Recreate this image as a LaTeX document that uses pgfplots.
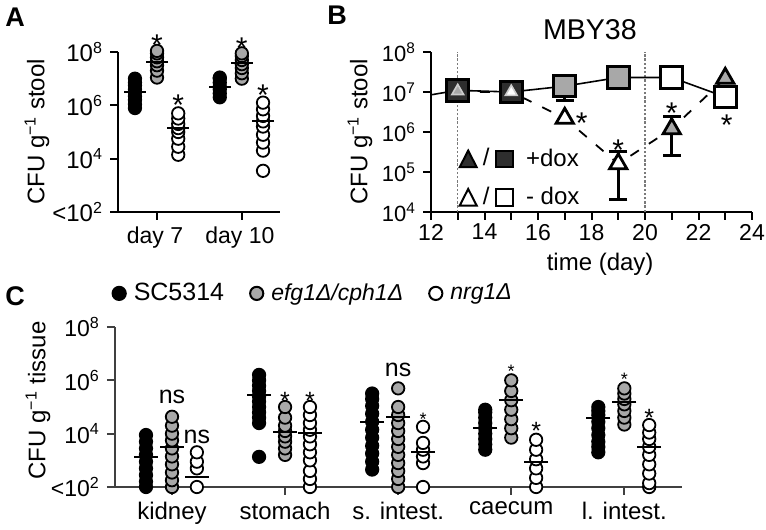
\documentclass[border=0pt]{standalone}
\usepackage{fontspec}
\setmainfont{Liberation Sans}
\usepackage{pgfplots}
\pgfplotsset{compat=1.18}
\definecolor{mgray}{HTML}{A8A8A8}
\definecolor{dgray}{HTML}{2E2E2E}
\definecolor{axgray}{HTML}{404040}
\definecolor{vgray}{HTML}{7A7A7A}
\newcommand{\fs}[1]{\fontsize{#1}{#1}\selectfont}
\pgfplotsset{
  blk/.style={only marks, mark=*, mark size=3.1pt, mark options={line width=0.9pt, draw=black, fill=black}, forget plot},
  gry/.style={only marks, mark=*, mark size=3.1pt, mark options={line width=0.9pt, draw=black, fill=mgray}, forget plot},
  wht/.style={only marks, mark=*, mark size=3.1pt, mark options={line width=0.9pt, draw=black, fill=white}, forget plot},
  avgA/.style={only marks, mark=-, mark size=5.5pt, mark options={line width=1.1pt, draw=black}, forget plot},
  avgC/.style={only marks, mark=-, mark size=6pt, mark options={line width=1pt, draw=black}, forget plot},
}
\tikzset{
  astk/.style={font=\fs{15}, inner sep=0pt, anchor=center, yshift=-3.3pt},
  mstk/.style={font=\fs{12.5}, inner sep=0pt, anchor=center, yshift=-2.7pt},
  sstk/.style={font=\fs{9}, inner sep=0pt, anchor=center, yshift=-2pt},
  nsl/.style={font=\fs{12.5}, inner sep=0pt, anchor=center},
}
\begin{document}
\begin{tikzpicture}
% ---------------- Panel A ----------------
\begin{axis}[scale only axis, clip=false,
  axis lines=left, axis line style={-, line width=1pt},
  tick align=outside, major tick length=4pt,
  every tick/.style={black, line width=1pt},
  xminorticks=false, yminorticks=false, ymode=log,
  label style={font=\fs{12}},
  at={(59pt,159pt)}, anchor=south west, width=81pt, height=80pt,
  xmin=0.54, xmax=2.45, ymin=1e2, ymax=1e8,
  xtick={1,2}, xticklabels={day 7, day 10},
  x tick label style={font=\fs{11.5}, xshift=-1pt},
  ytick={1e2,1e4,1e6,1e8},
  yticklabels={{<10\textsuperscript{2}},10\textsuperscript{4},10\textsuperscript{6},10\textsuperscript{8}},
  y tick label style={font=\fs{12}},
  ylabel={CFU g\textsuperscript{−1} stool},
  ylabel style={at={(axis description cs:-0.5,0.5)}, anchor=center},
]
\addplot[blk] coordinates {(0.74,7.9e5) (0.74,1.1e6) (0.74,1.6e6) (0.74,2.2e6) (0.74,3.2e6) (0.74,4e6) (0.74,5.6e6) (0.74,7.1e6) (0.74,1e7)};
\addplot[gry] coordinates {(1,1.1e7) (1,2e7) (1,3.2e7) (1,4.5e7) (1,6.3e7) (1,8.9e7) (1,1.1e8)};
\addplot[wht] coordinates {(1.25,1.4e4) (1.25,2.8e4) (1.25,5.6e4) (1.25,1e5) (1.25,1.4e5) (1.25,2e5) (1.25,3.2e5) (1.25,5e5)};
\addplot[blk] coordinates {(1.74,2e6) (1.74,2.8e6) (1.74,4e6) (1.74,5e6) (1.74,7.1e6) (1.74,1e7) (1.74,1.1e7)};
\addplot[gry] coordinates {(2,1e7) (2,1.6e7) (2,2.5e7) (2,3.5e7) (2,5e7) (2,7.1e7) (2,8.9e7)};
\addplot[wht] coordinates {(2.25,3.5e3) (2.25,2e4) (2.25,4e4) (2.25,7.9e4) (2.25,1.6e5) (2.25,2.5e5) (2.25,4e5) (2.25,7.1e5) (2.25,1.26e6)};
\addplot[avgA] coordinates {(0.74,3.2e6) (1,4.3e7) (1.25,1.4e5) (1.74,4.9e6) (2,3.9e7) (2.25,2.6e5)};
\node[astk] at (axis cs:1,3.2e8) {*};
\node[astk] at (axis cs:1.25,1.8e6) {*};
\node[astk] at (axis cs:2,2.5e8) {*};
\node[astk] at (axis cs:2.25,4.2e6) {*};
\end{axis}
% ---------------- Panel B ----------------
\begin{axis}[scale only axis, clip=false,
  axis lines=left, axis line style={-, line width=1pt},
  tick align=outside, major tick length=4pt, minor tick length=4pt,
  every tick/.style={black, line width=1pt},
  every minor tick/.style={black, line width=1pt},
  yminorticks=false, ymode=log,
  label style={font=\fs{12}},
  at={(215.5pt,159pt)}, anchor=south west, width=160.5pt, height=80pt,
  xmin=12, xmax=24, ymin=1e4, ymax=1e8,
  xtick={12,14,...,24}, xticklabels={12,14,16,18,20,22,24},
  minor xtick={13,15,...,23},
  x tick label style={font=\fs{11.5}, yshift=1.5pt},
  ytick={1e4,1e5,1e6,1e7,1e8},
  yticklabels={10\textsuperscript{4},10\textsuperscript{5},10\textsuperscript{6},10\textsuperscript{7},10\textsuperscript{8}},
  y tick label style={font=\fs{11}},
  xlabel={time (day)},
  xlabel style={at={(axis description cs:0.527,-0.33)}, anchor=center},
  ylabel={CFU g\textsuperscript{−1} stool},
  ylabel style={at={(axis description cs:-0.221,0.5)}, anchor=center},
  legend style={at={(axis description cs:0.085,0.21)}, anchor=west, draw=none, fill=none,
    font=\fs{12}, row sep=5pt, inner sep=0pt, cells={anchor=west}},
]
\addlegendimage{legend image code/.code={
  \filldraw[fill=dgray, draw=black, line width=1pt] (0pt,-4pt) -- (8.5pt,-4pt) -- (4.25pt,4.3pt) -- cycle;
  \node[inner sep=0pt, anchor=center, font=\fs{12}] at (13.2pt,0.3pt) {/};
  \filldraw[fill=dgray, draw=black, line width=1pt] (18.3pt,-4pt) rectangle (26.8pt,4.3pt);
  \path (31pt,0pt);
}}
\addlegendentry{+dox}
\addlegendimage{legend image code/.code={
  \filldraw[fill=white, draw=black, line width=1pt] (0pt,-4pt) -- (8.5pt,-4pt) -- (4.25pt,4.3pt) -- cycle;
  \node[inner sep=0pt, anchor=center, font=\fs{12}] at (13.2pt,0.3pt) {/};
  \filldraw[fill=white, draw=black, line width=1pt] (18.3pt,-4pt) rectangle (26.8pt,4.3pt);
  \path (31pt,0pt);
}}
\addlegendentry{- dox}
% dotted verticals
\addplot[vgray, line width=0.7pt, dash pattern=on 1.2pt off 0.9pt, forget plot] coordinates {(13,1e4) (13,1e8)};
\addplot[vgray, line width=0.7pt, dash pattern=on 1.2pt off 0.9pt, forget plot] coordinates {(20,1e4) (20,1e8)};
% connecting lines
\addplot[black, line width=0.8pt, forget plot] coordinates {(12,8.5e6) (13,1.1e7) (15,1e7) (17,1.4e7) (19,2.3e7) (21,2.3e7) (23,7.5e6)};
\addplot[black, line width=0.9pt, dash pattern=on 5pt off 6pt, forget plot] coordinates {(13,1e7) (15,1e7) (17,2.2e6) (19,1.6e5) (21,1.2e6) (23,2.2e7)};
% error bars
\addplot[black, line width=1.4pt, mark=-, mark size=4.5pt, forget plot] coordinates {(17,1.4e7) (17,6.2e6)};
\addplot[black, line width=1.4pt, mark=-, mark size=4.5pt, forget plot] coordinates {(23,7.5e6) (23,4.2e6)};
\addplot[black, line width=1.4pt, mark=-, mark size=4.5pt, forget plot] coordinates {(19,3.2e5) (19,2.1e4)};
\addplot[black, line width=1.4pt, mark=-, mark size=4.5pt, forget plot] coordinates {(21,2.4e6) (21,2.6e5)};
% squares
\addplot[only marks, mark=square*, mark size=5.4pt, mark options={line width=1.5pt, draw=black, fill=dgray}, forget plot] coordinates {(13,1.1e7) (15,1e7)};
\addplot[only marks, mark=square*, mark size=5.4pt, mark options={line width=1.5pt, draw=black, fill=mgray}, forget plot] coordinates {(17,1.4e7) (19,2.3e7)};
\addplot[only marks, mark=square*, mark size=5.4pt, mark options={line width=1.5pt, draw=black, fill=white}, forget plot] coordinates {(21,2.3e7) (23,7.5e6)};
% triangles
\addplot[only marks, mark=triangle*, mark size=3.4pt, mark options={line width=0.8pt, draw=gray!40, fill=mgray}, forget plot] coordinates {(13,1.05e7)};
\addplot[only marks, mark=triangle*, mark size=3.4pt, mark options={line width=0.8pt, draw=gray!40, fill=white}, forget plot] coordinates {(15,1e7)};
\addplot[only marks, mark=triangle*, mark size=5pt, mark options={line width=1.4pt, draw=black, fill=white}, forget plot] coordinates {(17,2.2e6) (19,1.6e5)};
\addplot[only marks, mark=triangle*, mark size=5pt, mark options={line width=1.4pt, draw=black, fill=mgray}, forget plot] coordinates {(21,1.2e6) (23,2.2e7)};
\node[astk] at (axis cs:17.63,2.4e6) {*};
\node[astk] at (axis cs:19,5.1e5) {*};
\node[astk] at (axis cs:21,4.2e6) {*};
\node[astk] at (axis cs:23.05,2.2e6) {*};
\node[font=\fs{14.3}] at (axis description cs:0.495,1.14) {MBY38};
\end{axis}
% ---------------- Panel C ----------------
\begin{axis}[scale only axis, clip=false,
  axis lines=left, axis line style={-, line width=0.9pt, draw=axgray},
  tick align=outside, major tick length=4pt,
  every tick/.style={axgray, line width=0.9pt},
  xminorticks=false, yminorticks=false, ymode=log,
  label style={font=\fs{12}},
  at={(57.5pt,21.5pt)}, anchor=south west, width=283.5pt, height=80pt,
  xmin=0.496, xmax=5.51, ymin=1e2, ymax=1e8,
  xtick={1,...,5}, xticklabels={kidney, stomach, s. intest., caecum, l. intest.},
  x tick label style={font=\fs{12}},
  ytick={1e2,1e4,1e6,1e8},
  yticklabels={{<10\textsuperscript{2}},10\textsuperscript{4},10\textsuperscript{6},10\textsuperscript{8}},
  y tick label style={font=\fs{11.5}},
  ylabel={CFU g\textsuperscript{−1} tissue},
  ylabel style={at={(axis description cs:-0.136,0.54)}, anchor=center},
  legend columns=3,
  legend style={at={(axis description cs:-0.005,1.21)}, anchor=west, draw=none, fill=none,
    font=\fs{12.5}, inner sep=0pt, /tikz/every even column/.append style={column sep=11pt},
    /tikz/every odd column/.append style={column sep=2pt}},
]
\addlegendimage{only marks, mark=*, mark size=3.3pt, mark options={line width=1pt, draw=black, fill=black}}
\addlegendentry{SC5314}
\addlegendimage{only marks, mark=*, mark size=3.3pt, mark options={line width=1pt, draw=black, fill=mgray}}
\addlegendentry{\fs{11.5}\textit{efg1Δ/cph1Δ}}
\addlegendimage{only marks, mark=*, mark size=3.3pt, mark options={line width=1pt, draw=black, fill=white}}
\addlegendentry{\fs{11.5}\textit{nrg1Δ}}
% kidney
\addplot[blk] coordinates {(0.77,100) (0.77,160) (0.77,280) (0.77,500) (0.77,890) (0.77,1600) (0.77,2800) (0.77,5000) (0.77,8900)};
\addplot[gry] coordinates {(1,100) (1,180) (1,350) (1,710) (1,1400) (1,2800) (1,5600) (1,1e4) (1,2e4) (1,4.3e4)};
\addplot[wht] coordinates {(1.22,100) (1.22,500) (1.22,890) (1.22,2000)};
% stomach
\addplot[blk] coordinates {(1.77,1350) (1.77,2.5e4) (1.77,4e4) (1.77,6.3e4) (1.77,1e5) (1.77,1.6e5) (1.77,2.5e5) (1.77,4e5) (1.77,6.3e5) (1.77,1e6) (1.77,1.6e6)};
\addplot[gry] coordinates {(2,1600) (2,2800) (2,5000) (2,7900) (2,1.26e4) (2,2e4) (2,4e4) (2,1e5)};
\addplot[wht] coordinates {(2.22,100) (2.22,200) (2.22,400) (2.22,1000) (2.22,2000) (2.22,4000) (2.22,7900) (2.22,1.4e4) (2.22,2.5e4) (2.22,5e4) (2.22,1e5)};
% s. intest.
\addplot[blk] coordinates {(2.77,450) (2.77,890) (2.77,1800) (2.77,3500) (2.77,7100) (2.77,1.4e4) (2.77,2.8e4) (2.77,5.6e4) (2.77,1.1e5) (2.77,2e5) (2.77,3.2e5)};
\addplot[gry] coordinates {(3,100) (3,200) (3,400) (3,790) (3,1600) (3,3200) (3,6300) (3,1.26e4) (3,2.5e4) (3,5e4) (3,1e5) (3,5e5)};
\addplot[wht] coordinates {(3.22,100) (3.22,790) (3.22,1400) (3.22,2500) (3.22,4500) (3.22,1.8e4)};
% caecum
\addplot[blk] coordinates {(3.77,2500) (3.77,4000) (3.77,6300) (3.77,1e4) (3.77,1.6e4) (3.77,2.5e4) (3.77,4e4) (3.77,6.3e4) (3.77,7.9e4)};
\addplot[gry] coordinates {(4,7100) (4,1.6e4) (4,3.5e4) (4,7.9e4) (4,1.8e5) (4,4e5) (4,1e6)};
\addplot[wht] coordinates {(4.22,100) (4.22,220) (4.22,500) (4.22,1100) (4.22,2500) (4.22,5900)};
% l. intest.
\addplot[blk] coordinates {(4.77,2000) (4.77,3200) (4.77,5000) (4.77,8900) (4.77,1.6e4) (4.77,2.8e4) (4.77,5e4) (4.77,7.1e4) (4.77,1e5)};
\addplot[gry] coordinates {(5,2.2e4) (5,4e4) (5,7.1e4) (5,1.26e5) (5,2e5) (5,3.2e5) (5,5e5)};
\addplot[wht] coordinates {(5.22,100) (5.22,140) (5.22,320) (5.22,710) (5.22,1600) (5.22,3200) (5.22,6300) (5.22,1.1e4) (5.22,2.1e4)};
% means
\addplot[avgC] coordinates {(0.77,1350) (1,3200) (1.22,240) (1.77,2.8e5) (2,1.2e4) (2.22,1.07e4) (2.77,2.75e4) (3,4.3e4) (3.22,2000) (3.77,1.6e4) (4,1.9e5) (4.22,870) (4.77,4e4) (5,1.6e5) (5.22,3200)};
% annotations
\node[nsl] at (axis cs:1,2.4e5) {ns};
\node[nsl] at (axis cs:1.22,7.6e3) {ns};
\node[nsl] at (axis cs:3,2.5e6) {ns};
\node[mstk] at (axis cs:2,2.8e5) {*};
\node[mstk] at (axis cs:2.22,2.8e5) {*};
\node[sstk] at (axis cs:3.22,5e4) {*};
\node[sstk] at (axis cs:4,3.2e6) {*};
\node[mstk] at (axis cs:4.22,2.1e4) {*};
\node[sstk] at (axis cs:5,1.6e6) {*};
\node[mstk] at (axis cs:5.22,6.3e4) {*};
\end{axis}
% panel letters
\node[font=\bfseries\fs{13.5}, anchor=center] at (7.5pt,256.5pt) {A};
\node[font=\bfseries\fs{13.5}, anchor=center] at (168.5pt,257.5pt) {B};
\node[font=\bfseries\fs{13.5}, anchor=center] at (7.5pt,117pt) {C};
\pgfresetboundingbox
\path[use as bounding box] (0,0) rectangle (383pt,265pt);
\end{tikzpicture}
\end{document}
